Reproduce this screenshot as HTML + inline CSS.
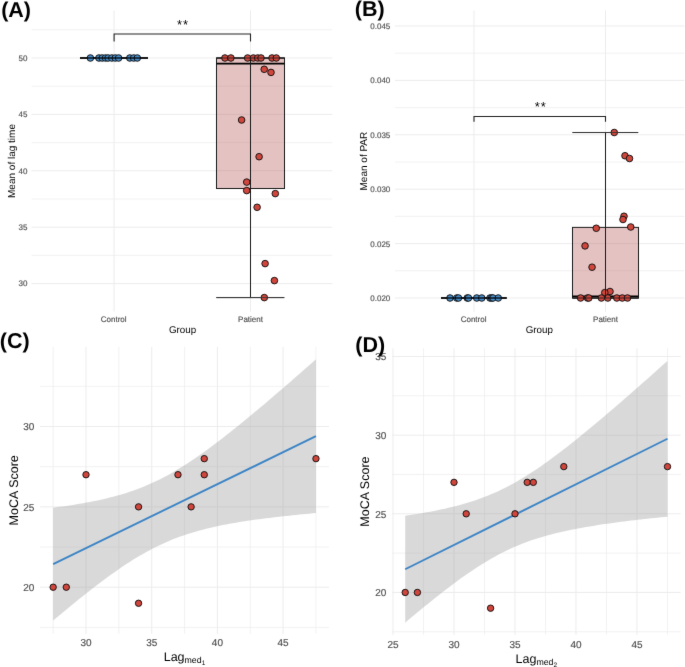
<!DOCTYPE html>
<html><head><meta charset="utf-8"><style>
html,body{margin:0;padding:0;background:#fff;}
svg{display:block;font-family:"Liberation Sans",sans-serif;will-change:transform;text-rendering:geometricPrecision;}
</style></head><body>
<svg width="685" height="667" viewBox="0 0 685 667">
<defs><filter id="bl" x="0" y="0" width="685" height="667" filterUnits="userSpaceOnUse" color-interpolation-filters="sRGB"><feConvolveMatrix order="3" kernelMatrix="0.00524 0.06192 0.00524 0.06192 0.73137 0.06192 0.00524 0.06192 0.00524" edgeMode="duplicate"/></filter></defs>
<g filter="url(#bl)">
<rect width="685" height="667" fill="#fff"/>
<line x1="31.5" y1="255.4" x2="332.3" y2="255.4" stroke="#ebebeb" stroke-width="0.65"/>
<line x1="31.5" y1="199" x2="332.3" y2="199" stroke="#ebebeb" stroke-width="0.65"/>
<line x1="31.5" y1="142.6" x2="332.3" y2="142.6" stroke="#ebebeb" stroke-width="0.65"/>
<line x1="31.5" y1="86.2" x2="332.3" y2="86.2" stroke="#ebebeb" stroke-width="0.65"/>
<line x1="31.5" y1="29.8" x2="332.3" y2="29.8" stroke="#ebebeb" stroke-width="0.65"/>
<line x1="31.5" y1="283.6" x2="332.3" y2="283.6" stroke="#ebebeb" stroke-width="0.95"/>
<line x1="31.5" y1="227.2" x2="332.3" y2="227.2" stroke="#ebebeb" stroke-width="0.95"/>
<line x1="31.5" y1="170.8" x2="332.3" y2="170.8" stroke="#ebebeb" stroke-width="0.95"/>
<line x1="31.5" y1="114.4" x2="332.3" y2="114.4" stroke="#ebebeb" stroke-width="0.95"/>
<line x1="31.5" y1="58" x2="332.3" y2="58" stroke="#ebebeb" stroke-width="0.95"/>
<line x1="114.1" y1="10.5" x2="114.1" y2="311.5" stroke="#ebebeb" stroke-width="0.95"/>
<line x1="250.5" y1="10.5" x2="250.5" y2="311.5" stroke="#ebebeb" stroke-width="0.95"/>
<text x="27.4" y="286.4" font-size="8" text-anchor="end" fill="#4d4d4d" stroke="#4d4d4d" stroke-width="0.15">30</text>
<text x="27.4" y="230" font-size="8" text-anchor="end" fill="#4d4d4d" stroke="#4d4d4d" stroke-width="0.15">35</text>
<text x="27.4" y="173.6" font-size="8" text-anchor="end" fill="#4d4d4d" stroke="#4d4d4d" stroke-width="0.15">40</text>
<text x="27.4" y="117.2" font-size="8" text-anchor="end" fill="#4d4d4d" stroke="#4d4d4d" stroke-width="0.15">45</text>
<text x="27.4" y="60.8" font-size="8" text-anchor="end" fill="#4d4d4d" stroke="#4d4d4d" stroke-width="0.15">50</text>
<text x="113.7" y="322" font-size="8" text-anchor="middle" fill="#4d4d4d" stroke="#4d4d4d" stroke-width="0.15">Control</text>
<text x="250.5" y="322" font-size="8" text-anchor="middle" fill="#4d4d4d" stroke="#4d4d4d" stroke-width="0.15">Patient</text>
<text x="182.5" y="333.3" font-size="9.8" text-anchor="middle" fill="#000">Group</text>
<text x="15.4" y="161" font-size="10" text-anchor="middle" fill="#000" transform="rotate(-90 15.4 161)">Mean of lag time</text>
<rect x="216.5" y="58" width="68" height="130.51" fill="rgb(188,103,103)" fill-opacity="0.4"/>
<g>
<rect x="216.5" y="58" width="68" height="130.51" fill="none" stroke="#1a1a1a" stroke-width="1"/>
<line x1="216.5" y1="63.64" x2="284.5" y2="63.64" stroke="#000" stroke-width="1.6"/>
<line x1="250.5" y1="58" x2="250.5" y2="297.59" stroke="#1a1a1a" stroke-width="1"/>
<line x1="216.3" y1="297.59" x2="284.3" y2="297.59" stroke="#333" stroke-width="1"/>
<line x1="216.5" y1="58" x2="284.5" y2="58" stroke="#1a1a1a" stroke-width="1"/>
<line x1="80" y1="58" x2="148" y2="58" stroke="#000" stroke-width="1.6"/>
</g>
<path d="M114.1 41.6 V33.95 H250.5 V41.6" fill="none" stroke="#222" stroke-width="1.1"/>
<text x="183.1" y="28.6" font-size="13" text-anchor="middle" fill="#000" letter-spacing="1">**</text>
<circle cx="90.4" cy="58" r="3.3" fill="rgb(70,142,204)" stroke="#111" stroke-width="0.95"/>
<circle cx="98.9" cy="58" r="3.3" fill="rgb(70,142,204)" stroke="#111" stroke-width="0.95"/>
<circle cx="102.2" cy="58" r="3.3" fill="rgb(70,142,204)" stroke="#111" stroke-width="0.95"/>
<circle cx="105.5" cy="58" r="3.3" fill="rgb(70,142,204)" stroke="#111" stroke-width="0.95"/>
<circle cx="108.1" cy="58" r="3.3" fill="rgb(70,142,204)" stroke="#111" stroke-width="0.95"/>
<circle cx="111.8" cy="58" r="3.3" fill="rgb(70,142,204)" stroke="#111" stroke-width="0.95"/>
<circle cx="115.3" cy="58" r="3.3" fill="rgb(70,142,204)" stroke="#111" stroke-width="0.95"/>
<circle cx="118.6" cy="58" r="3.3" fill="rgb(70,142,204)" stroke="#111" stroke-width="0.95"/>
<circle cx="129.8" cy="58" r="3.3" fill="rgb(70,142,204)" stroke="#111" stroke-width="0.95"/>
<circle cx="133.7" cy="58" r="3.3" fill="rgb(70,142,204)" stroke="#111" stroke-width="0.95"/>
<circle cx="137.3" cy="58" r="3.3" fill="rgb(70,142,204)" stroke="#111" stroke-width="0.95"/>
<circle cx="224.9" cy="58" r="3.3" fill="rgb(208,70,60)" stroke="#111" stroke-width="0.95"/>
<circle cx="230.9" cy="58" r="3.3" fill="rgb(208,70,60)" stroke="#111" stroke-width="0.95"/>
<circle cx="247.6" cy="58" r="3.3" fill="rgb(208,70,60)" stroke="#111" stroke-width="0.95"/>
<circle cx="253.4" cy="58" r="3.3" fill="rgb(208,70,60)" stroke="#111" stroke-width="0.95"/>
<circle cx="257.7" cy="58" r="3.3" fill="rgb(208,70,60)" stroke="#111" stroke-width="0.95"/>
<circle cx="261" cy="58" r="3.3" fill="rgb(208,70,60)" stroke="#111" stroke-width="0.95"/>
<circle cx="272" cy="58" r="3.3" fill="rgb(208,70,60)" stroke="#111" stroke-width="0.95"/>
<circle cx="276.3" cy="58" r="3.3" fill="rgb(208,70,60)" stroke="#111" stroke-width="0.95"/>
<circle cx="264.2" cy="69.3" r="3.3" fill="rgb(208,70,60)" stroke="#111" stroke-width="0.95"/>
<circle cx="271" cy="72.4" r="3.3" fill="rgb(208,70,60)" stroke="#111" stroke-width="0.95"/>
<circle cx="241.6" cy="120" r="3.3" fill="rgb(208,70,60)" stroke="#111" stroke-width="0.95"/>
<circle cx="259.1" cy="156.7" r="3.3" fill="rgb(208,70,60)" stroke="#111" stroke-width="0.95"/>
<circle cx="246.7" cy="182.1" r="3.3" fill="rgb(208,70,60)" stroke="#111" stroke-width="0.95"/>
<circle cx="246.7" cy="190.6" r="3.3" fill="rgb(208,70,60)" stroke="#111" stroke-width="0.95"/>
<circle cx="275.3" cy="193.6" r="3.3" fill="rgb(208,70,60)" stroke="#111" stroke-width="0.95"/>
<circle cx="257.1" cy="207.3" r="3.3" fill="rgb(208,70,60)" stroke="#111" stroke-width="0.95"/>
<circle cx="265.1" cy="263.6" r="3.3" fill="rgb(208,70,60)" stroke="#111" stroke-width="0.95"/>
<circle cx="274.4" cy="280.6" r="3.3" fill="rgb(208,70,60)" stroke="#111" stroke-width="0.95"/>
<circle cx="264.3" cy="297.6" r="3.3" fill="rgb(208,70,60)" stroke="#111" stroke-width="0.95"/>
<g opacity="0.85">
<line x1="250.5" y1="58" x2="250.5" y2="297.59" stroke="#1a1a1a" stroke-width="1"/>
<line x1="216.3" y1="297.59" x2="284.3" y2="297.59" stroke="#333" stroke-width="1"/>
<line x1="216.5" y1="58" x2="284.5" y2="58" stroke="#1a1a1a" stroke-width="1"/>
<line x1="80" y1="58" x2="148" y2="58" stroke="#000" stroke-width="1.6"/>
</g>
<text x="1.2" y="16.6" font-size="21.5" text-anchor="start" fill="#000" font-weight="bold">(A)</text>
<line x1="395" y1="270.8" x2="684.5" y2="270.8" stroke="#ebebeb" stroke-width="0.65"/>
<line x1="395" y1="216.4" x2="684.5" y2="216.4" stroke="#ebebeb" stroke-width="0.65"/>
<line x1="395" y1="162" x2="684.5" y2="162" stroke="#ebebeb" stroke-width="0.65"/>
<line x1="395" y1="107.6" x2="684.5" y2="107.6" stroke="#ebebeb" stroke-width="0.65"/>
<line x1="395" y1="53.2" x2="684.5" y2="53.2" stroke="#ebebeb" stroke-width="0.65"/>
<line x1="395" y1="298" x2="684.5" y2="298" stroke="#ebebeb" stroke-width="0.95"/>
<line x1="395" y1="243.6" x2="684.5" y2="243.6" stroke="#ebebeb" stroke-width="0.95"/>
<line x1="395" y1="189.2" x2="684.5" y2="189.2" stroke="#ebebeb" stroke-width="0.95"/>
<line x1="395" y1="134.8" x2="684.5" y2="134.8" stroke="#ebebeb" stroke-width="0.95"/>
<line x1="395" y1="80.4" x2="684.5" y2="80.4" stroke="#ebebeb" stroke-width="0.95"/>
<line x1="395" y1="26" x2="684.5" y2="26" stroke="#ebebeb" stroke-width="0.95"/>
<line x1="474" y1="10.5" x2="474" y2="311.8" stroke="#ebebeb" stroke-width="0.95"/>
<line x1="605.5" y1="10.5" x2="605.5" y2="311.8" stroke="#ebebeb" stroke-width="0.95"/>
<text x="390.3" y="300.9" font-size="8" text-anchor="end" fill="#4d4d4d" stroke="#4d4d4d" stroke-width="0.15">0.020</text>
<text x="390.3" y="246.5" font-size="8" text-anchor="end" fill="#4d4d4d" stroke="#4d4d4d" stroke-width="0.15">0.025</text>
<text x="390.3" y="192.1" font-size="8" text-anchor="end" fill="#4d4d4d" stroke="#4d4d4d" stroke-width="0.15">0.030</text>
<text x="390.3" y="137.7" font-size="8" text-anchor="end" fill="#4d4d4d" stroke="#4d4d4d" stroke-width="0.15">0.035</text>
<text x="390.3" y="83.3" font-size="8" text-anchor="end" fill="#4d4d4d" stroke="#4d4d4d" stroke-width="0.15">0.040</text>
<text x="390.3" y="28.9" font-size="8" text-anchor="end" fill="#4d4d4d" stroke="#4d4d4d" stroke-width="0.15">0.045</text>
<text x="473.6" y="322" font-size="8" text-anchor="middle" fill="#4d4d4d" stroke="#4d4d4d" stroke-width="0.15">Control</text>
<text x="605.5" y="322" font-size="8" text-anchor="middle" fill="#4d4d4d" stroke="#4d4d4d" stroke-width="0.15">Patient</text>
<text x="539.3" y="333.3" font-size="9.8" text-anchor="middle" fill="#000">Group</text>
<text x="366.8" y="161.1" font-size="10" text-anchor="middle" fill="#000" transform="rotate(-90 366.8 161.1)">Mean of PAR</text>
<rect x="572.5" y="227.39" width="66" height="70.61" fill="rgb(188,103,103)" fill-opacity="0.4"/>
<g>
<rect x="572.5" y="227.39" width="66" height="70.61" fill="none" stroke="#1a1a1a" stroke-width="1"/>
<line x1="572.5" y1="296.26" x2="638.5" y2="296.26" stroke="#000" stroke-width="1.6"/>
<line x1="605.5" y1="132.52" x2="605.5" y2="298" stroke="#1a1a1a" stroke-width="1"/>
<line x1="572.5" y1="132.52" x2="638.2" y2="132.52" stroke="#333" stroke-width="1"/>
<line x1="572.5" y1="298" x2="638.5" y2="298" stroke="#1a1a1a" stroke-width="1"/>
<line x1="441" y1="298" x2="506.75" y2="298" stroke="#000" stroke-width="1.6"/>
</g>
<path d="M474.0 121.7 V116.5 H605.5 V121.7" fill="none" stroke="#222" stroke-width="1.1"/>
<text x="540.8" y="111" font-size="13" text-anchor="middle" fill="#000" letter-spacing="1">**</text>
<circle cx="450" cy="298" r="3.3" fill="rgb(70,142,204)" stroke="#111" stroke-width="0.95"/>
<circle cx="456.75" cy="298" r="3.3" fill="rgb(70,142,204)" stroke="#111" stroke-width="0.95"/>
<circle cx="458.5" cy="298" r="3.3" fill="rgb(70,142,204)" stroke="#111" stroke-width="0.95"/>
<circle cx="467.25" cy="298" r="3.3" fill="rgb(70,142,204)" stroke="#111" stroke-width="0.95"/>
<circle cx="468.5" cy="298" r="3.3" fill="rgb(70,142,204)" stroke="#111" stroke-width="0.95"/>
<circle cx="476.75" cy="298" r="3.3" fill="rgb(70,142,204)" stroke="#111" stroke-width="0.95"/>
<circle cx="481.75" cy="298" r="3.3" fill="rgb(70,142,204)" stroke="#111" stroke-width="0.95"/>
<circle cx="490" cy="298" r="3.3" fill="rgb(70,142,204)" stroke="#111" stroke-width="0.95"/>
<circle cx="491.75" cy="298" r="3.3" fill="rgb(70,142,204)" stroke="#111" stroke-width="0.95"/>
<circle cx="493" cy="298" r="3.3" fill="rgb(70,142,204)" stroke="#111" stroke-width="0.95"/>
<circle cx="498.25" cy="298" r="3.3" fill="rgb(70,142,204)" stroke="#111" stroke-width="0.95"/>
<circle cx="614.25" cy="132.5" r="3.3" fill="rgb(208,70,60)" stroke="#111" stroke-width="0.95"/>
<circle cx="625" cy="155.75" r="3.3" fill="rgb(208,70,60)" stroke="#111" stroke-width="0.95"/>
<circle cx="629.5" cy="158.5" r="3.3" fill="rgb(208,70,60)" stroke="#111" stroke-width="0.95"/>
<circle cx="624" cy="216.25" r="3.3" fill="rgb(208,70,60)" stroke="#111" stroke-width="0.95"/>
<circle cx="623" cy="219.5" r="3.3" fill="rgb(208,70,60)" stroke="#111" stroke-width="0.95"/>
<circle cx="630.75" cy="227" r="3.3" fill="rgb(208,70,60)" stroke="#111" stroke-width="0.95"/>
<circle cx="596.25" cy="228.25" r="3.3" fill="rgb(208,70,60)" stroke="#111" stroke-width="0.95"/>
<circle cx="585.05" cy="245.9" r="3.3" fill="rgb(208,70,60)" stroke="#111" stroke-width="0.95"/>
<circle cx="592.05" cy="267.2" r="3.3" fill="rgb(208,70,60)" stroke="#111" stroke-width="0.95"/>
<circle cx="610" cy="291.5" r="3.3" fill="rgb(208,70,60)" stroke="#111" stroke-width="0.95"/>
<circle cx="604.8" cy="292.6" r="3.3" fill="rgb(208,70,60)" stroke="#111" stroke-width="0.95"/>
<circle cx="580.6" cy="298" r="3.3" fill="rgb(208,70,60)" stroke="#111" stroke-width="0.95"/>
<circle cx="587.5" cy="298" r="3.3" fill="rgb(208,70,60)" stroke="#111" stroke-width="0.95"/>
<circle cx="588.8" cy="298" r="3.3" fill="rgb(208,70,60)" stroke="#111" stroke-width="0.95"/>
<circle cx="601.4" cy="298" r="3.3" fill="rgb(208,70,60)" stroke="#111" stroke-width="0.95"/>
<circle cx="607.8" cy="298" r="3.3" fill="rgb(208,70,60)" stroke="#111" stroke-width="0.95"/>
<circle cx="616.8" cy="298" r="3.3" fill="rgb(208,70,60)" stroke="#111" stroke-width="0.95"/>
<circle cx="622.3" cy="298" r="3.3" fill="rgb(208,70,60)" stroke="#111" stroke-width="0.95"/>
<circle cx="627.5" cy="298" r="3.3" fill="rgb(208,70,60)" stroke="#111" stroke-width="0.95"/>
<g opacity="0.85">
<line x1="605.5" y1="132.52" x2="605.5" y2="298" stroke="#1a1a1a" stroke-width="1"/>
<line x1="572.5" y1="132.52" x2="638.2" y2="132.52" stroke="#333" stroke-width="1"/>
<line x1="572.5" y1="298" x2="638.5" y2="298" stroke="#1a1a1a" stroke-width="1"/>
<line x1="441" y1="298" x2="506.75" y2="298" stroke="#000" stroke-width="1.6"/>
</g>
<text x="354.8" y="15.5" font-size="21.5" text-anchor="start" fill="#000" font-weight="bold">(B)</text>
<line x1="40" y1="627.38" x2="329" y2="627.38" stroke="#ebebeb" stroke-width="0.65"/>
<line x1="40" y1="547.02" x2="329" y2="547.02" stroke="#ebebeb" stroke-width="0.65"/>
<line x1="40" y1="466.68" x2="329" y2="466.68" stroke="#ebebeb" stroke-width="0.65"/>
<line x1="40" y1="386.32" x2="329" y2="386.32" stroke="#ebebeb" stroke-width="0.65"/>
<line x1="40" y1="587.2" x2="329" y2="587.2" stroke="#ebebeb" stroke-width="0.95"/>
<line x1="40" y1="506.85" x2="329" y2="506.85" stroke="#ebebeb" stroke-width="0.95"/>
<line x1="40" y1="426.5" x2="329" y2="426.5" stroke="#ebebeb" stroke-width="0.95"/>
<line x1="53.15" y1="346.8" x2="53.15" y2="633.8" stroke="#ebebeb" stroke-width="0.65"/>
<line x1="118.85" y1="346.8" x2="118.85" y2="633.8" stroke="#ebebeb" stroke-width="0.65"/>
<line x1="184.55" y1="346.8" x2="184.55" y2="633.8" stroke="#ebebeb" stroke-width="0.65"/>
<line x1="250.25" y1="346.8" x2="250.25" y2="633.8" stroke="#ebebeb" stroke-width="0.65"/>
<line x1="315.95" y1="346.8" x2="315.95" y2="633.8" stroke="#ebebeb" stroke-width="0.65"/>
<line x1="86" y1="346.8" x2="86" y2="633.8" stroke="#ebebeb" stroke-width="0.95"/>
<line x1="151.7" y1="346.8" x2="151.7" y2="633.8" stroke="#ebebeb" stroke-width="0.95"/>
<line x1="217.4" y1="346.8" x2="217.4" y2="633.8" stroke="#ebebeb" stroke-width="0.95"/>
<line x1="283.1" y1="346.8" x2="283.1" y2="633.8" stroke="#ebebeb" stroke-width="0.95"/>
<path d="M53.15 507.74 L56.48 507.3 L59.8 506.85 L63.13 506.38 L66.46 505.89 L69.78 505.39 L73.11 504.88 L76.44 504.34 L79.76 503.78 L83.09 503.2 L86.42 502.6 L89.74 501.97 L93.07 501.32 L96.4 500.64 L99.72 499.93 L103.05 499.19 L106.38 498.41 L109.7 497.59 L113.03 496.74 L116.36 495.85 L119.68 494.91 L123.01 493.93 L126.33 492.89 L129.66 491.81 L132.99 490.68 L136.31 489.48 L139.64 488.23 L142.97 486.92 L146.29 485.55 L149.62 484.12 L152.95 482.62 L156.27 481.06 L159.6 479.44 L162.93 477.74 L166.25 475.99 L169.58 474.17 L172.91 472.29 L176.23 470.35 L179.56 468.34 L182.89 466.29 L186.21 464.17 L189.54 462 L192.87 459.79 L196.19 457.52 L199.52 455.21 L202.85 452.86 L206.17 450.46 L209.5 448.03 L212.83 445.56 L216.15 443.06 L219.48 440.52 L222.81 437.96 L226.13 435.37 L229.46 432.75 L232.79 430.1 L236.11 427.44 L239.44 424.75 L242.77 422.05 L246.09 419.32 L249.42 416.58 L252.74 413.82 L256.07 411.04 L259.4 408.25 L262.72 405.45 L266.05 402.64 L269.38 399.81 L272.7 396.97 L276.03 394.12 L279.36 391.26 L282.68 388.39 L286.01 385.52 L289.34 382.63 L292.66 379.74 L295.99 376.84 L299.32 373.93 L302.64 371.02 L305.97 368.1 L309.3 365.17 L312.62 362.24 L315.95 359.3 L315.95 513.04 L312.62 513.35 L309.3 513.65 L305.97 513.97 L302.64 514.29 L299.32 514.61 L295.99 514.95 L292.66 515.29 L289.34 515.63 L286.01 515.99 L282.68 516.35 L279.36 516.72 L276.03 517.1 L272.7 517.49 L269.38 517.9 L266.05 518.31 L262.72 518.73 L259.4 519.17 L256.07 519.62 L252.74 520.09 L249.42 520.57 L246.09 521.06 L242.77 521.58 L239.44 522.11 L236.11 522.66 L232.79 523.24 L229.46 523.84 L226.13 524.46 L222.81 525.1 L219.48 525.78 L216.15 526.49 L212.83 527.22 L209.5 527.99 L206.17 528.8 L202.85 529.64 L199.52 530.53 L196.19 531.46 L192.87 532.43 L189.54 533.46 L186.21 534.53 L182.89 535.66 L179.56 536.84 L176.23 538.07 L172.91 539.37 L169.58 540.73 L166.25 542.15 L162.93 543.64 L159.6 545.18 L156.27 546.8 L152.95 548.48 L149.62 550.22 L146.29 552.03 L142.97 553.9 L139.64 555.83 L136.31 557.82 L132.99 559.86 L129.66 561.97 L126.33 564.12 L123.01 566.33 L119.68 568.59 L116.36 570.89 L113.03 573.24 L109.7 575.62 L106.38 578.05 L103.05 580.51 L99.72 583.01 L96.4 585.54 L93.07 588.1 L89.74 590.68 L86.42 593.3 L83.09 595.93 L79.76 598.6 L76.44 601.28 L73.11 603.98 L69.78 606.7 L66.46 609.44 L63.13 612.2 L59.8 614.97 L56.48 617.76 L53.15 620.56Z" fill="#999999" fill-opacity="0.37"/>
<line x1="53.15" y1="564.15" x2="315.95" y2="436.17" stroke="#3d85c6" stroke-width="1.9"/>
<circle cx="53.15" cy="587.2" r="3.2" fill="rgb(208,70,60)" stroke="#111" stroke-width="0.95"/>
<circle cx="66.29" cy="587.2" r="3.2" fill="rgb(208,70,60)" stroke="#111" stroke-width="0.95"/>
<circle cx="86" cy="474.71" r="3.2" fill="rgb(208,70,60)" stroke="#111" stroke-width="0.95"/>
<circle cx="138.56" cy="506.85" r="3.2" fill="rgb(208,70,60)" stroke="#111" stroke-width="0.95"/>
<circle cx="138.56" cy="603.27" r="3.2" fill="rgb(208,70,60)" stroke="#111" stroke-width="0.95"/>
<circle cx="177.98" cy="474.71" r="3.2" fill="rgb(208,70,60)" stroke="#111" stroke-width="0.95"/>
<circle cx="191.12" cy="506.85" r="3.2" fill="rgb(208,70,60)" stroke="#111" stroke-width="0.95"/>
<circle cx="204.26" cy="458.64" r="3.2" fill="rgb(208,70,60)" stroke="#111" stroke-width="0.95"/>
<circle cx="204.26" cy="474.71" r="3.2" fill="rgb(208,70,60)" stroke="#111" stroke-width="0.95"/>
<circle cx="315.95" cy="458.64" r="3.2" fill="rgb(208,70,60)" stroke="#111" stroke-width="0.95"/>
<text x="34.4" y="590.9" font-size="10" text-anchor="end" fill="#4d4d4d" stroke="#4d4d4d" stroke-width="0.15">20</text>
<text x="34.4" y="510.55" font-size="10" text-anchor="end" fill="#4d4d4d" stroke="#4d4d4d" stroke-width="0.15">25</text>
<text x="34.4" y="430.2" font-size="10" text-anchor="end" fill="#4d4d4d" stroke="#4d4d4d" stroke-width="0.15">30</text>
<text x="86" y="646.2" font-size="10" text-anchor="middle" fill="#4d4d4d" stroke="#4d4d4d" stroke-width="0.15">30</text>
<text x="151.7" y="646.2" font-size="10" text-anchor="middle" fill="#4d4d4d" stroke="#4d4d4d" stroke-width="0.15">35</text>
<text x="217.4" y="646.2" font-size="10" text-anchor="middle" fill="#4d4d4d" stroke="#4d4d4d" stroke-width="0.15">40</text>
<text x="283.1" y="646.2" font-size="10" text-anchor="middle" fill="#4d4d4d" stroke="#4d4d4d" stroke-width="0.15">45</text>
<text x="18.1" y="490.3" font-size="12.5" text-anchor="middle" fill="#000" transform="rotate(-90 18.1 490.3)">MoCA Score</text>
<text x="184.5" y="661" font-size="12.5" text-anchor="middle" fill="#000">Lag<tspan font-size="8.8" dy="2.2">med</tspan><tspan font-size="6.5" dy="1.8">1</tspan></text>
<text x="-0.2" y="347.8" font-size="21.5" text-anchor="start" fill="#000" font-weight="bold">(C)</text>
<line x1="392.1" y1="631.78" x2="680.6" y2="631.78" stroke="#ebebeb" stroke-width="0.65"/>
<line x1="392.1" y1="553.12" x2="680.6" y2="553.12" stroke="#ebebeb" stroke-width="0.65"/>
<line x1="392.1" y1="474.48" x2="680.6" y2="474.48" stroke="#ebebeb" stroke-width="0.65"/>
<line x1="392.1" y1="395.82" x2="680.6" y2="395.82" stroke="#ebebeb" stroke-width="0.65"/>
<line x1="392.1" y1="592.45" x2="680.6" y2="592.45" stroke="#ebebeb" stroke-width="0.95"/>
<line x1="392.1" y1="513.8" x2="680.6" y2="513.8" stroke="#ebebeb" stroke-width="0.95"/>
<line x1="392.1" y1="435.15" x2="680.6" y2="435.15" stroke="#ebebeb" stroke-width="0.95"/>
<line x1="392.1" y1="356.5" x2="680.6" y2="356.5" stroke="#ebebeb" stroke-width="0.95"/>
<line x1="423.5" y1="348.3" x2="423.5" y2="634.8" stroke="#ebebeb" stroke-width="0.65"/>
<line x1="484.5" y1="348.3" x2="484.5" y2="634.8" stroke="#ebebeb" stroke-width="0.65"/>
<line x1="545.5" y1="348.3" x2="545.5" y2="634.8" stroke="#ebebeb" stroke-width="0.65"/>
<line x1="606.5" y1="348.3" x2="606.5" y2="634.8" stroke="#ebebeb" stroke-width="0.65"/>
<line x1="667.5" y1="348.3" x2="667.5" y2="634.8" stroke="#ebebeb" stroke-width="0.65"/>
<line x1="393" y1="348.3" x2="393" y2="634.8" stroke="#ebebeb" stroke-width="0.95"/>
<line x1="454" y1="348.3" x2="454" y2="634.8" stroke="#ebebeb" stroke-width="0.95"/>
<line x1="515" y1="348.3" x2="515" y2="634.8" stroke="#ebebeb" stroke-width="0.95"/>
<line x1="576" y1="348.3" x2="576" y2="634.8" stroke="#ebebeb" stroke-width="0.95"/>
<line x1="637" y1="348.3" x2="637" y2="634.8" stroke="#ebebeb" stroke-width="0.95"/>
<path d="M405.2 515.83 L408.52 515.33 L411.84 514.82 L415.16 514.29 L418.48 513.75 L421.8 513.19 L425.12 512.61 L428.44 512.01 L431.76 511.38 L435.08 510.73 L438.4 510.06 L441.72 509.36 L445.04 508.63 L448.36 507.87 L451.68 507.08 L455 506.25 L458.32 505.39 L461.64 504.48 L464.96 503.54 L468.28 502.54 L471.61 501.5 L474.93 500.41 L478.25 499.27 L481.57 498.07 L484.89 496.81 L488.21 495.5 L491.53 494.12 L494.85 492.68 L498.17 491.18 L501.49 489.61 L504.81 487.97 L508.13 486.27 L511.45 484.51 L514.77 482.68 L518.09 480.78 L521.41 478.83 L524.73 476.81 L528.05 474.74 L531.37 472.6 L534.69 470.42 L538.01 468.18 L541.33 465.9 L544.65 463.56 L547.97 461.19 L551.29 458.77 L554.61 456.31 L557.93 453.82 L561.25 451.29 L564.57 448.74 L567.89 446.15 L571.21 443.53 L574.53 440.89 L577.85 438.22 L581.17 435.53 L584.49 432.82 L587.81 430.09 L591.13 427.34 L594.45 424.57 L597.77 421.78 L601.09 418.98 L604.42 416.17 L607.74 413.34 L611.06 410.51 L614.38 407.65 L617.7 404.79 L621.02 401.92 L624.34 399.04 L627.66 396.15 L630.98 393.25 L634.3 390.34 L637.62 387.42 L640.94 384.5 L644.26 381.57 L647.58 378.63 L650.9 375.69 L654.22 372.74 L657.54 369.79 L660.86 366.83 L664.18 363.87 L667.5 360.9 L667.5 516.63 L664.18 516.96 L660.86 517.3 L657.54 517.65 L654.22 518 L650.9 518.35 L647.58 518.71 L644.26 519.08 L640.94 519.45 L637.62 519.84 L634.3 520.22 L630.98 520.62 L627.66 521.02 L624.34 521.43 L621.02 521.86 L617.7 522.29 L614.38 522.73 L611.06 523.18 L607.74 523.65 L604.42 524.12 L601.09 524.61 L597.77 525.12 L594.45 525.64 L591.13 526.17 L587.81 526.73 L584.49 527.3 L581.17 527.89 L577.85 528.5 L574.53 529.14 L571.21 529.8 L567.89 530.49 L564.57 531.2 L561.25 531.95 L557.93 532.72 L554.61 533.53 L551.29 534.38 L547.97 535.27 L544.65 536.19 L541.33 537.17 L538.01 538.18 L534.69 539.25 L531.37 540.37 L528.05 541.54 L524.73 542.77 L521.41 544.05 L518.09 545.4 L514.77 546.81 L511.45 548.29 L508.13 549.82 L504.81 551.43 L501.49 553.1 L498.17 554.83 L494.85 556.63 L491.53 558.49 L488.21 560.42 L484.89 562.41 L481.57 564.46 L478.25 566.56 L474.93 568.72 L471.61 570.93 L468.28 573.2 L464.96 575.51 L461.64 577.86 L458.32 580.26 L455 582.7 L451.68 585.18 L448.36 587.69 L445.04 590.23 L441.72 592.81 L438.4 595.41 L435.08 598.04 L431.76 600.7 L428.44 603.38 L425.12 606.08 L421.8 608.8 L418.48 611.54 L415.16 614.3 L411.84 617.08 L408.52 619.87 L405.2 622.68Z" fill="#999999" fill-opacity="0.37"/>
<line x1="405.2" y1="569.25" x2="667.5" y2="438.76" stroke="#3d85c6" stroke-width="1.9"/>
<circle cx="405.2" cy="592.45" r="3.2" fill="rgb(208,70,60)" stroke="#111" stroke-width="0.95"/>
<circle cx="417.4" cy="592.45" r="3.2" fill="rgb(208,70,60)" stroke="#111" stroke-width="0.95"/>
<circle cx="454" cy="482.34" r="3.2" fill="rgb(208,70,60)" stroke="#111" stroke-width="0.95"/>
<circle cx="466.2" cy="513.8" r="3.2" fill="rgb(208,70,60)" stroke="#111" stroke-width="0.95"/>
<circle cx="490.6" cy="608.18" r="3.2" fill="rgb(208,70,60)" stroke="#111" stroke-width="0.95"/>
<circle cx="515" cy="513.8" r="3.2" fill="rgb(208,70,60)" stroke="#111" stroke-width="0.95"/>
<circle cx="527.2" cy="482.34" r="3.2" fill="rgb(208,70,60)" stroke="#111" stroke-width="0.95"/>
<circle cx="533.3" cy="482.34" r="3.2" fill="rgb(208,70,60)" stroke="#111" stroke-width="0.95"/>
<circle cx="563.8" cy="466.61" r="3.2" fill="rgb(208,70,60)" stroke="#111" stroke-width="0.95"/>
<circle cx="667.5" cy="466.61" r="3.2" fill="rgb(208,70,60)" stroke="#111" stroke-width="0.95"/>
<text x="386.3" y="596.15" font-size="10" text-anchor="end" fill="#4d4d4d" stroke="#4d4d4d" stroke-width="0.15">20</text>
<text x="386.3" y="517.5" font-size="10" text-anchor="end" fill="#4d4d4d" stroke="#4d4d4d" stroke-width="0.15">25</text>
<text x="386.3" y="438.85" font-size="10" text-anchor="end" fill="#4d4d4d" stroke="#4d4d4d" stroke-width="0.15">30</text>
<text x="386.3" y="360.2" font-size="10" text-anchor="end" fill="#4d4d4d" stroke="#4d4d4d" stroke-width="0.15">35</text>
<text x="393" y="648.1" font-size="10" text-anchor="middle" fill="#4d4d4d" stroke="#4d4d4d" stroke-width="0.15">25</text>
<text x="454" y="648.1" font-size="10" text-anchor="middle" fill="#4d4d4d" stroke="#4d4d4d" stroke-width="0.15">30</text>
<text x="515" y="648.1" font-size="10" text-anchor="middle" fill="#4d4d4d" stroke="#4d4d4d" stroke-width="0.15">35</text>
<text x="576" y="648.1" font-size="10" text-anchor="middle" fill="#4d4d4d" stroke="#4d4d4d" stroke-width="0.15">40</text>
<text x="637" y="648.1" font-size="10" text-anchor="middle" fill="#4d4d4d" stroke="#4d4d4d" stroke-width="0.15">45</text>
<text x="369.2" y="491.55" font-size="12.5" text-anchor="middle" fill="#000" transform="rotate(-90 369.2 491.55)">MoCA Score</text>
<text x="536.35" y="662.5" font-size="12.5" text-anchor="middle" fill="#000">Lag<tspan font-size="8.8" dy="2.2">med</tspan><tspan font-size="6.5" dy="1.8">2</tspan></text>
<text x="355.3" y="352" font-size="21.5" text-anchor="start" fill="#000" font-weight="bold">(D)</text>
</g>
</svg></body></html>
